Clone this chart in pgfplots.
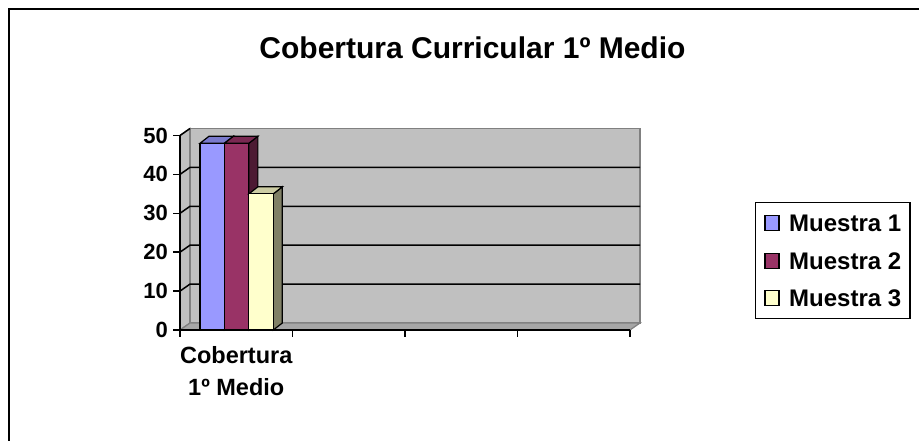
\documentclass[border=0pt]{standalone}
\usepackage{pgfplots}
\pgfplotsset{compat=1.18}
\usepackage{fontspec}
\setmainfont{Liberation Sans}
\definecolor{wall}{HTML}{C0C0C0}
\definecolor{walledge}{HTML}{808080}
\definecolor{floorc}{HTML}{A6A6A6}
\definecolor{mA}{HTML}{9999FF}
\definecolor{mAtop}{HTML}{7A7ACC}
\definecolor{mAside}{HTML}{4D4D80}
\definecolor{mB}{HTML}{993366}
\definecolor{mBtop}{HTML}{7A2952}
\definecolor{mBside}{HTML}{4D1A33}
\definecolor{mC}{HTML}{FFFFCC}
\definecolor{mCtop}{HTML}{CCCCA3}
\definecolor{mCside}{HTML}{808066}
\begin{document}
\begin{tikzpicture}[x=1pt,y=1pt]
\useasboundingbox (0,0) rectangle (919,441);
\draw[line width=2pt] (9,-2) -- (9,431.5) -- (921,431.5);
\node[font=\bfseries\fontsize{30}{34}\selectfont, anchor=base, inner sep=0pt] at (472.5,382) {Cobertura Curricular 1º Medio};
\begin{axis}[
  at={(180pt,111pt)}, anchor=south west, scale only axis,
  width=450pt, height=194.5pt,
  xmin=0, xmax=4, ymin=0, ymax=50,
  clip=false, axis on top,
  axis x line*=bottom, axis y line*=left,
  axis line style={line width=1.5pt,-},
  tick style={line width=1.5pt, black},
  tick align=outside, major tick length=7pt,
  xtick={0,1,2,3,4}, xticklabels={},
  ytick={0,10,20,30,40,50},
  /pgf/number format/assume math mode=true,
  y tick label style={font=\bfseries\fontsize{22}{26}\selectfont, inner sep=0pt, xshift=-5pt},
  extra x ticks={0.5},
  extra x tick labels={Cobertura\\1º Medio},
  extra x tick style={major tick length=0pt, tick label style={font=\bfseries\fontsize{23.5}{32}\selectfont, align=center, inner sep=0pt, yshift=-16pt}},
  legend style={at={(1.6244,0.6581)}, anchor=north east, draw=black, line width=1.5pt,
    font=\bfseries\fontsize{24}{28}\selectfont,
    inner xsep=9pt, inner ysep=12pt,
    nodes={inner sep=0pt, text height=17pt, text depth=0pt},
    row sep=20.5pt,
    /tikz/every odd column/.append style={column sep=9.5pt}},
  legend cell align=left,
  legend image code/.code={\draw[#1,draw=black,line width=1.2pt] (0pt,-7.5pt) rectangle (14pt,7.5pt);},
]
% walls and floor
\addplot[forget plot, fill=wall, draw=walledge, line width=1.2pt] coordinates {(0,0) (0.0889,1.8) (0.0889,51.8) (0,50)} -- cycle;
\addplot[forget plot, fill=wall, draw=walledge, line width=1.2pt] coordinates {(0.0889,1.8) (4.0889,1.8) (4.0889,51.8) (0.0889,51.8)} -- cycle;
\addplot[forget plot, fill=floorc, draw=walledge, line width=1.2pt] coordinates {(0,0) (4,0) (4.0889,1.8) (0.0889,1.8)} -- cycle;
% gridlines
\addplot[forget plot, black, line width=1.5pt] coordinates {(0,10) (0.0889,11.8) (4.0889,11.8)};
\addplot[forget plot, black, line width=1.5pt] coordinates {(0,20) (0.0889,21.8) (4.0889,21.8)};
\addplot[forget plot, black, line width=1.5pt] coordinates {(0,30) (0.0889,31.8) (4.0889,31.8)};
\addplot[forget plot, black, line width=1.5pt] coordinates {(0,40) (0.0889,41.8) (4.0889,41.8)};
\addplot[forget plot, black, line width=1.5pt] coordinates {(0,50) (0.0889,51.8)};
% Muestra 1
\addplot[forget plot, fill=mAside, draw=black, line width=1.2pt] coordinates {(0.3950,0) (0.4750,1.8) (0.4750,49.8) (0.3950,48)} -- cycle;
\addplot[forget plot, fill=mAtop, draw=black, line width=1.2pt] coordinates {(0.1778,48) (0.3950,48) (0.4750,49.8) (0.2578,49.8)} -- cycle;
\addplot[ybar, bar width=0.2172, bar shift=0pt, fill=mA, draw=black, line width=1.2pt] coordinates {(0.2864,48)};
\addlegendentry{Muestra 1}
% Muestra 2
\addplot[forget plot, fill=mBside, draw=black, line width=1.2pt] coordinates {(0.6122,0) (0.6922,1.8) (0.6922,49.8) (0.6122,48)} -- cycle;
\addplot[forget plot, fill=mBtop, draw=black, line width=1.2pt] coordinates {(0.3950,48) (0.6122,48) (0.6922,49.8) (0.4750,49.8)} -- cycle;
\addplot[ybar, bar width=0.2172, bar shift=0pt, fill=mB, draw=black, line width=1.2pt] coordinates {(0.5036,48)};
\addlegendentry{Muestra 2}
% Muestra 3
\addplot[forget plot, fill=mCside, draw=black, line width=1.2pt] coordinates {(0.8294,0) (0.9094,1.8) (0.9094,36.8) (0.8294,35)} -- cycle;
\addplot[forget plot, fill=mCtop, draw=black, line width=1.2pt] coordinates {(0.6122,35) (0.8294,35) (0.9094,36.8) (0.6922,36.8)} -- cycle;
\addplot[ybar, bar width=0.2172, bar shift=0pt, fill=mC, draw=black, line width=1.2pt] coordinates {(0.7208,35)};
\addlegendentry{Muestra 3}
\end{axis}
\end{tikzpicture}
\end{document}
